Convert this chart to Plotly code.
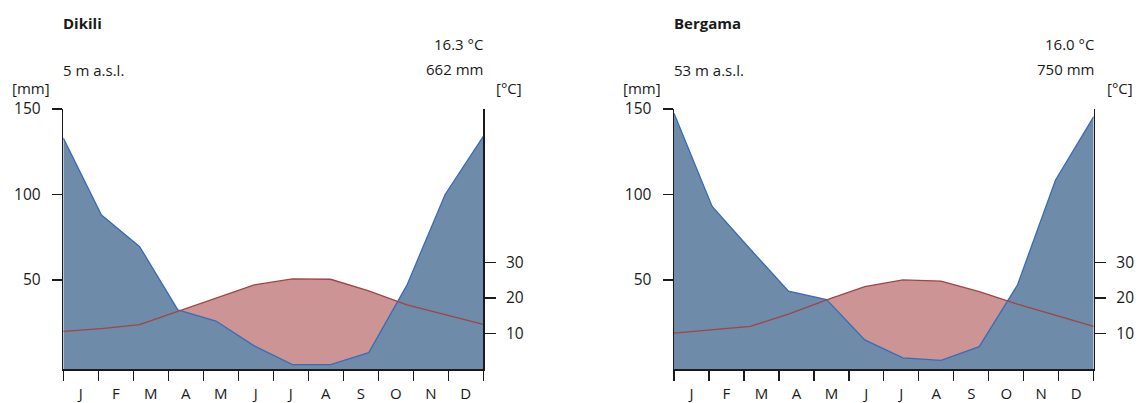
import plotly.graph_objects as go

# ---------------- data ----------------
months = ["J", "F", "M", "A", "M", "J", "J", "A", "S", "O", "N", "D"]

station_names = ["Dikili", "Bergama"]
elevations = ["5 m a.s.l.", "53 m a.s.l."]
mean_temps = ["16.3 °C", "16.0 °C"]
annual_precip = ["662 mm", "750 mm"]

dikili_precip = [133, 88, 69.5, 32.5, 26, 11.5, 0.5, 0.5, 7.5, 47, 100, 134]
dikili_temp = [10.6, 11.4, 12.5, 16.2, 20.0, 23.7, 25.4, 25.3, 22.0, 18.1, 15.3, 12.6]

bergama_precip = [147.5, 93, 68, 43.5, 38.5, 15, 4.5, 3, 11, 47, 108.5, 145.5]
bergama_temp = [10.1, 11.0, 12.0, 15.5, 19.5, 23.2, 25.1, 24.8, 21.8, 18.3, 15.1, 12.0]

precip_ticks = [50, 100, 150]
temp_ticks = [10, 20, 30]

precip_series = [dikili_precip, bergama_precip]
temp_series = [dikili_temp, bergama_temp]

# ---------------- styling ----------------
W, H = 1139, 403
FONT = "Open Sans"
TXT = "#1a1a1a"
AX = "#1b1b1b"
BLUE_FILL = "rgb(110,139,170)"
BLUE_LINE = "rgb(58,108,178)"
RED_FILL = "rgb(204,148,148)"
RED_LINE = "rgb(160,68,70)"

P_RANGE = [-2.05, 150]
T_RANGE = [0, 73.3]

PLOT_TOP, PLOT_BOT = 109, 369
LEFTS = [63.3, 674.0]
RIGHTS = [483.3, 1093.7]


def px(x):
    return x / W


def py(y):
    return 1 - y / H


def t_to_p(t):
    frac = (t - T_RANGE[0]) / (T_RANGE[1] - T_RANGE[0])
    return P_RANGE[0] + frac * (P_RANGE[1] - P_RANGE[0])


fig = go.Figure()
n = len(months)
xs = list(range(n))
span = n - 1
boundaries = [k * span / n for k in range(n + 1)]
centers = [(k + 0.5) * span / n for k in range(n)]

layout_axes = {}
annotations = []

for k in range(2):
    xname = "x" if k == 0 else "x2"
    yp = "y" if k == 0 else "y3"
    yt = "y2" if k == 0 else "y4"
    prec = precip_series[k]
    temp = temp_series[k]

    # blue precipitation area
    fig.add_trace(go.Scatter(
        x=xs + [xs[-1], xs[0]], y=prec + [P_RANGE[0], P_RANGE[0]],
        fill="toself", fillcolor=BLUE_FILL, mode="lines", line=dict(width=0),
        xaxis=xname, yaxis=yp, hoverinfo="skip", showlegend=False))

    # red (arid) area between temperature and precipitation, in precip units
    tq = [t_to_p(t) for t in temp]
    fx, lo, hi = [], [], []
    for i in range(n):
        fx.append(xs[i]); hi.append(tq[i]); lo.append(min(tq[i], prec[i]))
        if i < n - 1:
            d0 = tq[i] - prec[i]
            d1 = tq[i + 1] - prec[i + 1]
            if d0 * d1 < 0:
                f = d0 / (d0 - d1)
                yc = tq[i] + f * (tq[i + 1] - tq[i])
                fx.append(xs[i] + f); hi.append(yc); lo.append(yc)
    fig.add_trace(go.Scatter(x=fx, y=lo, mode="lines", line=dict(width=0),
                             xaxis=xname, yaxis=yp, hoverinfo="skip", showlegend=False))
    fig.add_trace(go.Scatter(x=fx, y=hi, mode="lines", line=dict(width=0),
                             fill="tonexty", fillcolor=RED_FILL,
                             xaxis=xname, yaxis=yp, hoverinfo="skip", showlegend=False))

    # precipitation line
    fig.add_trace(go.Scatter(x=xs, y=prec, mode="lines",
                             line=dict(color=BLUE_LINE, width=1.3),
                             xaxis=xname, yaxis=yp, hoverinfo="skip", showlegend=False))
    # temperature line on temperature axis
    fig.add_trace(go.Scatter(x=xs, y=temp, mode="lines",
                             line=dict(color=RED_LINE, width=1.3),
                             xaxis=xname, yaxis=yt, hoverinfo="skip", showlegend=False))

    dom_x = [px(LEFTS[k]), px(RIGHTS[k])]
    dom_y = [py(PLOT_BOT), py(PLOT_TOP)]
    xkey = "xaxis" if k == 0 else "xaxis2"
    ypkey = "yaxis" if k == 0 else "yaxis3"
    ytkey = "yaxis2" if k == 0 else "yaxis4"

    layout_axes[xkey] = dict(
        domain=dom_x, range=[0, span], anchor=yp, automargin=False,
        showline=True, linecolor=AX, linewidth=2,
        tickmode="array", tickvals=centers, ticktext=months,
        ticks="outside", ticklen=10, tickcolor="rgba(0,0,0,0)",
        minor=dict(tickvals=boundaries, ticks="outside", ticklen=10,
                   tickcolor=AX, tickwidth=1.3, showgrid=False),
        tickfont=dict(family=FONT, size=15, color=TXT),
        showgrid=False, zeroline=False, fixedrange=True)
    layout_axes[ypkey] = dict(
        domain=dom_y, range=P_RANGE, anchor=xname, side="left", automargin=False,
        showline=True, linecolor=AX, linewidth=1.5,
        tickmode="array", tickvals=precip_ticks,
        ticks="outside", ticklen=10, tickcolor=AX, tickwidth=1.3,
        ticklabelstandoff=8,
        tickfont=dict(family=FONT, size=15.5, color=TXT),
        showgrid=False, zeroline=False, fixedrange=True)
    layout_axes[ytkey] = dict(
        range=T_RANGE, anchor=xname, overlaying=yp, side="right", automargin=False,
        showline=True, linecolor=AX, linewidth=1.5,
        tickmode="array", tickvals=temp_ticks,
        ticks="outside", ticklen=11, tickcolor=AX, tickwidth=1.3,
        ticklabelstandoff=7,
        tickfont=dict(family=FONT, size=15.5, color=TXT),
        showgrid=False, zeroline=False, fixedrange=True)

    L, R = LEFTS[k], RIGHTS[k]

    def ann(text, x, y, xanchor, bold=False):
        annotations.append(dict(
            text=f"<b>{text}</b>" if bold else text,
            x=px(x), y=py(y), xref="paper", yref="paper",
            xanchor=xanchor, yanchor="middle", showarrow=False,
            font=dict(family=FONT, size=15, color=TXT)))

    ann(station_names[k], L - 2, 23, "left", bold=True)
    ann(elevations[k], L - 2, 70, "left")
    ann(mean_temps[k], R + 2, 44.5, "right")
    ann(annual_precip[k], R + 2, 68.5, "right")
    ann("[mm]", L - 32, 88, "center")
    ann("[°C]", R + 26, 88, "center")

fig.update_layout(
    width=W, height=H, autosize=False,
    margin=dict(l=0, r=0, t=0, b=0, pad=0, autoexpand=False),
    paper_bgcolor="white", plot_bgcolor="white",
    showlegend=False, annotations=annotations,
    **layout_axes)

fig.write_html(
    "out.html",
    config={"displayModeBar": False, "staticPlot": True},
    post_script="document.body.style.margin='0';document.body.style.overflow='hidden';")
